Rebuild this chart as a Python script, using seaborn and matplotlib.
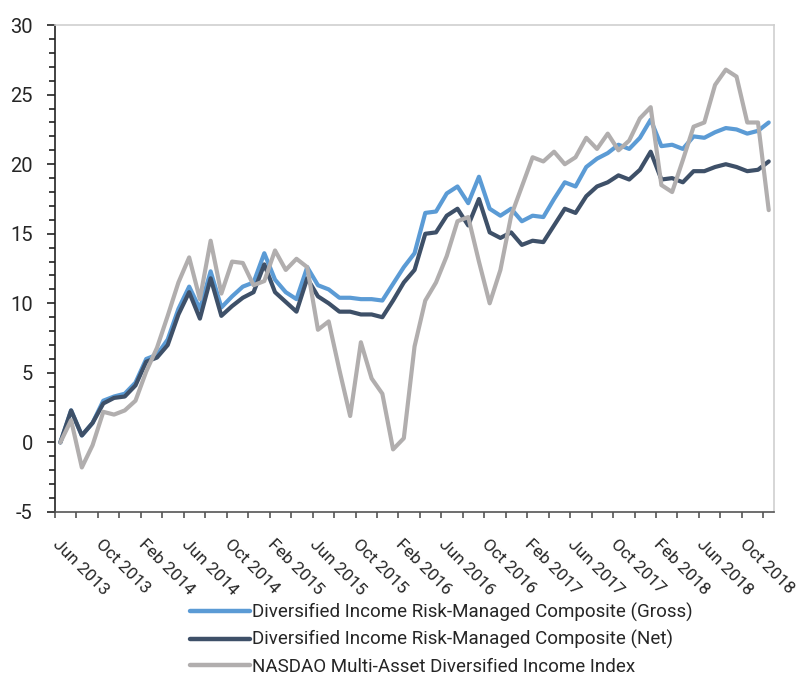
"""
Cumulative return chart - Diversified Income Risk-Managed Composite vs index
"""

import numpy as np
import pandas as pd
import matplotlib
matplotlib.use("Agg")
import matplotlib.pyplot as plt
from matplotlib.ticker import FixedLocator, MultipleLocator
import seaborn as sns

# Monthly points, Jun 2013 .. Dec 2018
months = pd.date_range("2013-06-01", periods=67, freq="MS")

gross = [0, 2.3, 0.5, 1.4, 3.0, 3.3, 3.5, 4.3, 6.0, 6.3,
         7.4, 9.6, 11.2, 9.6, 12.3, 9.7, 10.5, 11.2, 11.5, 13.6,
         11.7, 10.8, 10.3, 12.6, 11.3, 11.0, 10.4, 10.4, 10.3, 10.3,
         10.2, 11.4, 12.6, 13.6, 16.5, 16.6, 17.9, 18.4, 17.2, 19.1,
         16.8, 16.3, 16.8, 15.9, 16.3, 16.2, 17.5, 18.7, 18.4, 19.8,
         20.4, 20.8, 21.4, 21.1, 21.9, 23.2, 21.3, 21.4, 21.1, 22.0,
         21.9, 22.3, 22.6, 22.5, 22.2, 22.4, 23.0]

net = [0, 2.3, 0.5, 1.4, 2.8, 3.2, 3.3, 4.1, 5.8, 6.1,
       7.0, 9.2, 10.8, 8.9, 11.8, 9.1, 9.8, 10.4, 10.8, 12.8,
       10.8, 10.1, 9.4, 11.8, 10.5, 10.0, 9.4, 9.4, 9.2, 9.2,
       9.0, 10.2, 11.5, 12.4, 15.0, 15.1, 16.3, 16.8, 15.6, 17.5,
       15.1, 14.7, 15.1, 14.2, 14.5, 14.4, 15.6, 16.8, 16.5, 17.7,
       18.4, 18.7, 19.2, 18.9, 19.6, 20.9, 18.9, 19.0, 18.7, 19.5,
       19.5, 19.8, 20.0, 19.8, 19.5, 19.6, 20.2]

nasdaq = [0, 1.6, -1.8, -0.2, 2.2, 2.0, 2.3, 3.0, 5.1, 6.8,
          9.1, 11.5, 13.3, 10.3, 14.5, 10.7, 13.0, 12.9, 11.3, 11.6,
          13.8, 12.4, 13.2, 12.6, 8.1, 8.7, 5.2, 1.9, 7.2, 4.6,
          3.5, -0.5, 0.3, 6.9, 10.2, 11.5, 13.4, 15.9, 16.2, 13.0,
          10.0, 12.4, 16.3, 18.4, 20.5, 20.2, 20.9, 20.0, 20.5, 21.9,
          21.1, 22.2, 21.0, 21.7, 23.3, 24.1, 18.5, 18.0, 20.3, 22.7,
          23.0, 25.7, 26.8, 26.3, 23.0, 23.0, 16.7]

series_names = [
    "Diversified Income Risk-Managed Composite (Gross)",
    "Diversified Income Risk-Managed Composite (Net)",
    "NASDAO Multi-Asset Diversified Income Index",
]
colors = ["#5b9bd5", "#3e5068", "#b1aeae"]

sns.set_style("white")
plt.rcParams["font.family"] = ["Roboto", "DejaVu Sans"]
plt.rcParams["axes.unicode_minus"] = False

# long table for seaborn
idx = np.arange(len(months))
df = pd.concat([
    pd.DataFrame({"idx": idx, "value": vals, "series": name})
    for name, vals in zip(series_names, [gross, net, nasdaq])
])

fig = plt.figure(figsize=(8.03, 6.79), dpi=100)
ax = fig.add_axes([0.0685, 0.246, 0.8955, 0.717])

sns.lineplot(data=df, x="idx", y="value", hue="series", hue_order=series_names,
             palette=colors, linewidth=3.0, legend=False, ax=ax)

ax.set_xlim(-0.5, len(months) - 0.5)
ax.set_ylim(-5, 30)
ax.set_xlabel("")
ax.set_ylabel("")

# y axis
ax.yaxis.set_major_locator(MultipleLocator(5))
ax.yaxis.set_minor_locator(MultipleLocator(1))
ax.tick_params(axis="y", which="major", direction="out", length=6, width=1.2,
               color="#222222", labelsize=14.5, pad=10, left=True)
ax.tick_params(axis="y", which="minor", direction="out", length=4, width=1.2,
               color="#222222", left=True)

# x axis: labels every 4 months, tick marks between every 2 months
label_pos = list(range(0, len(months), 4))
ax.xaxis.set_major_locator(FixedLocator(label_pos))
ax.set_xticklabels([months[i].strftime("%b %Y") for i in label_pos])
ax.xaxis.set_minor_locator(FixedLocator(np.arange(-0.5, len(months), 2)))
ax.tick_params(axis="x", which="major", length=0, labelsize=12.5, pad=18)
ax.tick_params(axis="x", which="minor", direction="out", length=4, width=1.2,
               color="#555555", bottom=True)
for lbl in ax.get_xticklabels():
    lbl.set_rotation(-45)
    lbl.set_ha("left")
    lbl.set_va("top")
    lbl.set_rotation_mode("anchor")

for side in ["top", "right"]:
    ax.spines[side].set_color("#cfcfcf")
    ax.spines[side].set_linewidth(1.2)
ax.spines["left"].set_color("#222222")
ax.spines["left"].set_linewidth(1.2)
ax.spines["bottom"].set_color("#555555")
ax.spines["bottom"].set_linewidth(1.2)

handles = [plt.Line2D([], [], color=c, linewidth=3.2) for c in colors]
fig.legend(handles, series_names, loc="upper left",
           bbox_to_anchor=(190 / 803, 1 - 603 / 679), frameon=False,
           fontsize=13.5, handlelength=3.2, handletextpad=0.12,
           labelspacing=0.43, borderaxespad=0, borderpad=0)

fig.savefig("out.png", dpi=100)
